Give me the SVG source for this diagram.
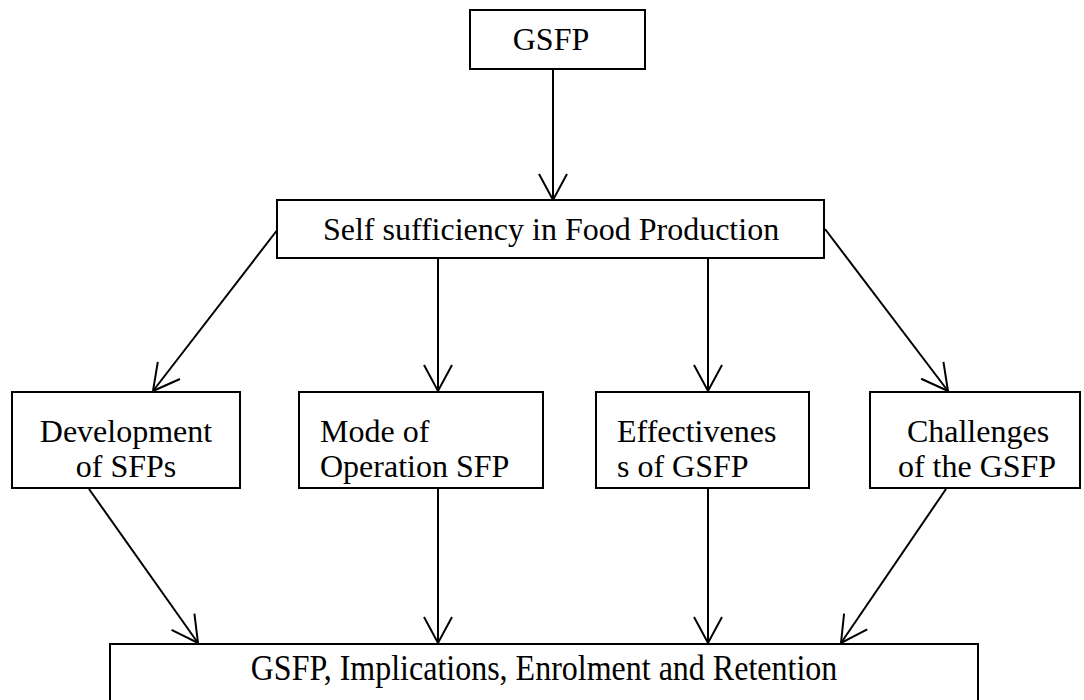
<svg xmlns="http://www.w3.org/2000/svg" width="1084" height="700" viewBox="0 0 1084 700">
<style>
.box{fill:#fff;stroke:#000;stroke-width:2}
.t{font-family:"Liberation Serif","Times New Roman",serif;font-size:32px;fill:#000}
.c{text-anchor:middle}
.ln{stroke:#000;stroke-width:2;fill:none;marker-end:url(#v)}
</style>
<defs>
<marker id="v" markerUnits="userSpaceOnUse" markerWidth="40" markerHeight="40" refX="0" refY="0" orient="auto" overflow="visible" viewBox="-30 -20 40 40">
<path d="M-26,-14 L0,0 L-26,14" fill="none" stroke="#000" stroke-width="2"/>
</marker>
</defs>
<rect width="1084" height="700" fill="#fff"/>
<g id="connectors">
<line class="ln" x1="553" y1="69" x2="553" y2="200"/>
<line class="ln" x1="278" y1="229" x2="153" y2="391"/>
<line class="ln" x1="438" y1="258" x2="438" y2="391"/>
<line class="ln" x1="708" y1="258" x2="708" y2="391"/>
<line class="ln" x1="825" y1="229" x2="948" y2="391"/>
<line class="ln" x1="89" y1="489" x2="198" y2="643"/>
<line class="ln" x1="438" y1="489" x2="438" y2="643"/>
<line class="ln" x1="708" y1="489" x2="708" y2="643"/>
<line class="ln" x1="946" y1="489" x2="841" y2="643"/>
</g>
<g id="gsfp">
<rect class="box" x="470" y="10" width="175" height="59"/>
<text class="t c" x="551" y="50">GSFP</text>
</g>
<g id="self">
<rect class="box" x="277" y="200" width="547" height="58"/>
<text class="t c" x="551" y="240">Self sufficiency in Food Production</text>
</g>
<g id="dev">
<rect class="box" x="12" y="392" width="228" height="96"/>
<text class="t c" x="126" y="442">Development</text>
<text class="t c" x="126" y="477">of SFPs</text>
</g>
<g id="mode">
<rect class="box" x="299" y="392" width="244" height="96"/>
<text class="t" x="320" y="442">Mode of</text>
<text class="t" x="320" y="477">Operation SFP</text>
</g>
<g id="eff">
<rect class="box" x="596" y="392" width="213" height="96"/>
<text class="t" x="617" y="442">Effectivenes</text>
<text class="t" x="617" y="477">s of GSFP</text>
</g>
<g id="chal">
<rect class="box" x="870" y="392" width="210" height="96"/>
<text class="t c" x="978" y="442">Challenges</text>
<text class="t c" x="977" y="477">of the GSFP</text>
</g>
<g id="result">
<rect class="box" x="110" y="644" width="868" height="60"/>
<text class="t c" transform="translate(544 680) scale(1 1.12)" x="0" y="0">GSFP, Implications, Enrolment and Retention</text>
</g>
</svg>
